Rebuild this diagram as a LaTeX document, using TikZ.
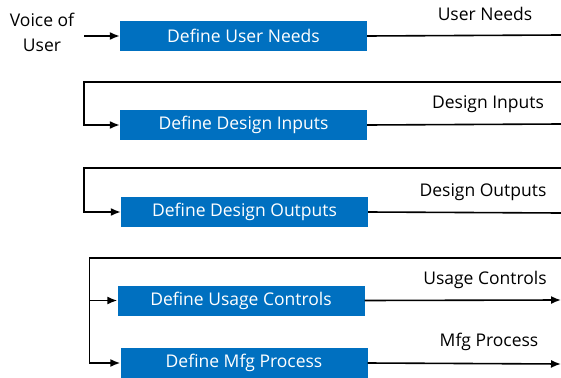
\documentclass[tikz,border=0pt]{standalone}
\usepackage{fontspec}
\setmainfont{Open Sans}
\usepackage{tikz}
\usetikzlibrary{positioning}
\usetikzlibrary{arrows.meta}
\definecolor{defineBlue}{RGB}{0,112,192}

\begin{document}
\begin{tikzpicture}[x=1pt,y=-1pt,
  defineBox/.style={rectangle, fill=defineBlue, text=white, minimum width=247pt,
    minimum height=30pt, inner sep=0pt, font=\fontsize{17.5}{20}\selectfont},
  flowLabel/.style={font=\fontsize{17.5}{20}\selectfont, inner sep=0pt},
  flowLine/.style={draw=black, line width=1.6pt},
  flowArrow/.style={flowLine, -{Latex[length=10pt,width=8pt]}},
]

\useasboundingbox (0,0) rectangle (561,377);

% --- the five steps ---
\node[defineBox] (userNeeds)     at (243.5,36)  {Define User Needs};
\node[defineBox] (designInputs)  at (243.5,125) {Define Design Inputs};
\node[defineBox] (designOutputs) at (244.5,212) {Define Design Outputs};
\node[defineBox] (usageControls) at (241,300.5) {Define Usage Controls};
\node[defineBox] (mfgProcess)    at (244,363)   {Define Mfg Process};

\node[flowLabel, align=center, font=\fontsize{17.5}{25}\selectfont] (voice) at (42,32) {Voice of\\User};

% --- outputs leaving on the right ---
\coordinate (outNeeds)    at (561,35);
\coordinate (outInputs)   at (561,124);
\coordinate (outOutputs)  at (561,213);
\coordinate (outUsage)    at (561,300);
\coordinate (outMfg)      at (561,364);

\node[flowLabel] (lblNeeds)   at (485,14)  {User Needs};
\node[flowLabel] (lblInputs)  at (488,104) {Design Inputs};
\node[flowLabel] (lblOutputs) at (483,192) {Design Outputs};
\node[flowLabel] (lblUsage)   at (485,280) {Usage Controls};
\node[flowLabel] (lblMfg)     at (489,342) {Mfg Process};

\draw[flowArrow, shorten <=10pt] (voice.east |- userNeeds) -- (userNeeds.west);

\draw[flowLine]  (userNeeds.east)     -- (outNeeds);
\draw[flowLine]  (designInputs.east)  -- (outInputs);
\draw[flowLine]  (designOutputs.east) -- (outOutputs);
\draw[flowArrow] (usageControls.east) -- (outUsage);
\draw[flowArrow] (mfgProcess.east)    -- (outMfg);

% --- loops coming back from the right ---
\coordinate (backNeeds)   at (561,82);
\coordinate (backInputs)  at (561,168);
\coordinate (backOutputs) at (561,258);

\draw[flowArrow] (backNeeds) -| ([xshift=-36pt]designInputs.west) -- (designInputs.west);
\draw[flowArrow] (backInputs) -| ([xshift=-37pt]designOutputs.west) -- (designOutputs.west);
\draw[flowArrow] (backOutputs) -| ([xshift=-31pt]mfgProcess.west) -- (mfgProcess.west);
\draw[flowArrow] ([xshift=-31pt]mfgProcess.west |- usageControls.west) -- (usageControls.west);

\end{tikzpicture}
\end{document}
